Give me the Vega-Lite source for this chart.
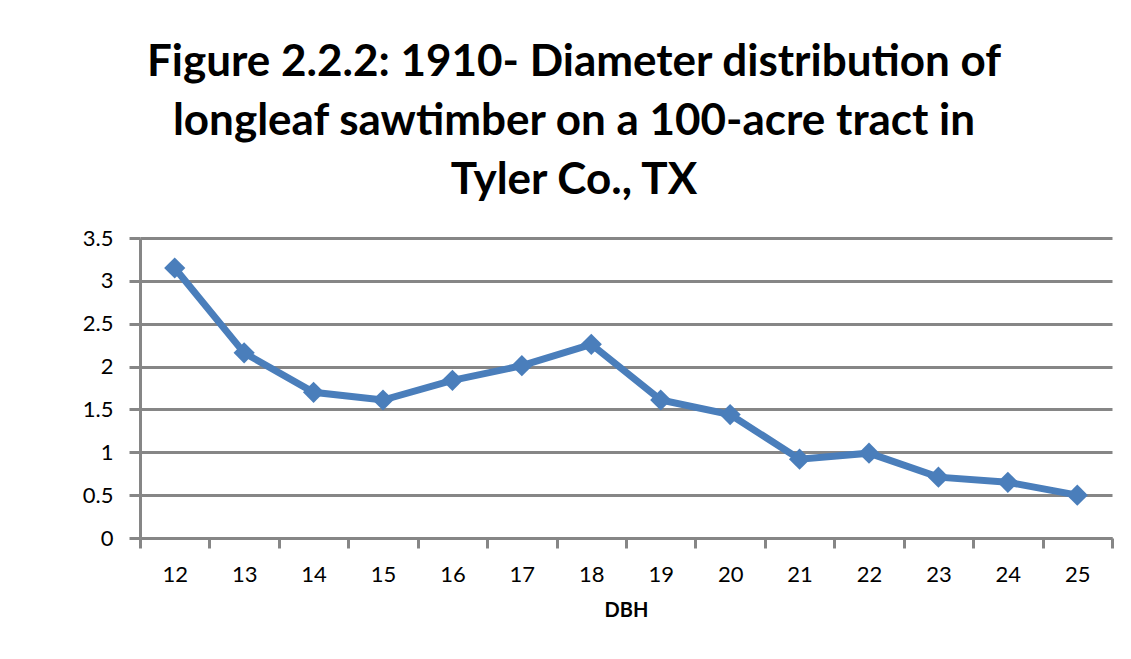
{
  "$schema": "https://vega.github.io/schema/vega-lite/v6.json",
  "autosize": {"type": "none"},
  "padding": {"left": 140, "top": 238, "right": 19, "bottom": 121},
  "width": 972,
  "height": 300,
  "background": "white",
  "title": {
    "text": ["Figure 2.2.2: 1910- Diameter distribution of", "longleaf sawtimber on a 100-acre tract in", "Tyler Co., TX"],
    "font": "Lato",
    "fontSize": 44,
    "fontWeight": "bold",
    "color": "#000000",
    "lineHeight": 59,
    "anchor": "middle",
    "dx": -52,
    "offset": 24
  },
  "data": {
    "values": [
      {"DBH": "12", "value": 3.15},
      {"DBH": "13", "value": 2.16},
      {"DBH": "14", "value": 1.70},
      {"DBH": "15", "value": 1.61},
      {"DBH": "16", "value": 1.84},
      {"DBH": "17", "value": 2.01},
      {"DBH": "18", "value": 2.26},
      {"DBH": "19", "value": 1.61},
      {"DBH": "20", "value": 1.44},
      {"DBH": "21", "value": 0.92},
      {"DBH": "22", "value": 0.99},
      {"DBH": "23", "value": 0.71},
      {"DBH": "24", "value": 0.65},
      {"DBH": "25", "value": 0.50}
    ]
  },
  "mark": {
    "type": "line",
    "color": "#4A7EBB",
    "strokeWidth": 7,
    "point": {"shape": "diamond", "size": 450, "filled": true, "color": "#4A7EBB", "opacity": 1}
  },
  "encoding": {
    "x": {
      "field": "DBH",
      "type": "ordinal",
      "sort": null,
      "bandPosition": 0.5,
      "scale": {"type": "band", "paddingInner": 0, "paddingOuter": 0},
      "axis": {
        "title": "DBH",
        "titleFont": "Lato",
        "titleFontSize": 20,
        "titleFontWeight": "bold",
        "titleColor": "#000000",
        "titlePadding": 15,
        "labelFont": "Lato",
        "labelFontSize": 22,
        "labelColor": "#000000",
        "labelAngle": 0,
        "labelPadding": 16,
        "tickBand": "extent",
        "ticks": true,
        "tickSize": 10,
        "tickWidth": 3,
        "tickColor": "#868686",
        "domainColor": "#868686",
        "domainWidth": 3,
        "grid": false
      }
    },
    "y": {
      "field": "value",
      "type": "quantitative",
      "scale": {"domain": [0, 3.5], "nice": false, "zero": true},
      "axis": {
        "title": null,
        "values": [0, 0.5, 1, 1.5, 2, 2.5, 3, 3.5],
        "format": "~g",
        "labelFont": "Lato",
        "labelFontSize": 22,
        "labelColor": "#000000",
        "labelPadding": 16,
        "tickSize": 11,
        "tickWidth": 3,
        "tickColor": "#868686",
        "domainColor": "#868686",
        "domainWidth": 3,
        "grid": true,
        "gridColor": "#868686",
        "gridWidth": 3,
        "gridOpacity": 1
      }
    }
  },
  "config": {"view": {"stroke": null}}
}
